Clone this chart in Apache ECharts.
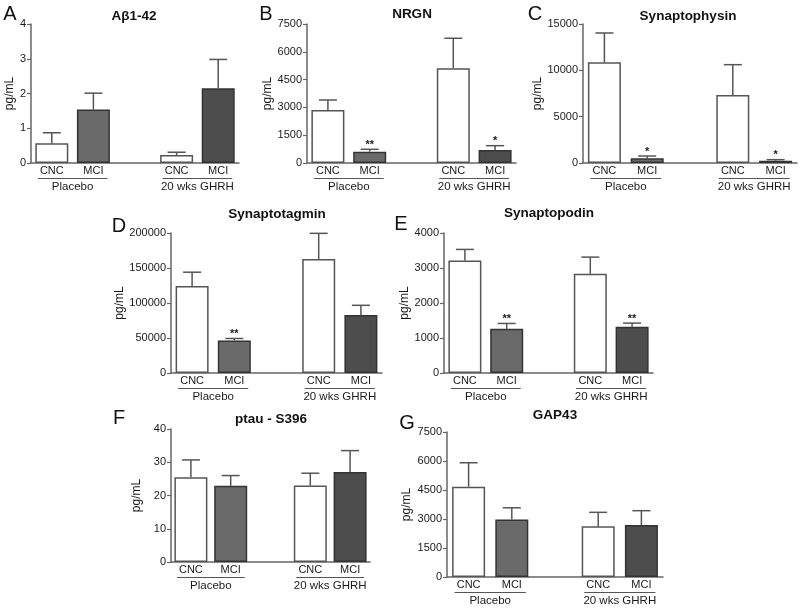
<!DOCTYPE html>
<html><head><meta charset="utf-8">
<script src="https://cdn.jsdelivr.net/npm/echarts@6/dist/echarts.min.js"></script>
<style>html,body{margin:0;padding:0;background:#fff}#c{width:800px;height:611px}</style>
</head><body><div id="c"></div>
<script>
// ---------- data ----------
const categories = ['CNC', 'MCI', '', 'CNC', 'MCI'];
const groupLabels = ['Placebo', '20 wks GHRH'];
const groupSpans = [[0, 1], [3, 4]];
const panelLetters = ['A', 'B', 'C', 'D', 'E', 'F', 'G'];
const panelTitles = ['Aβ1-42', 'NRGN', 'Synaptophysin', 'Synaptotagmin', 'Synaptopodin', 'ptau - S396', 'GAP43'];
const yUnit = 'pg/mL';
const yMax = [4, 7500, 15000, 200000, 4000, 40, 7500];
const yStep = [1, 1500, 5000, 50000, 1000, 10, 1500];

const ab42Mean = [0.57, 1.54, null, 0.23, 2.15];
const ab42Sem = [0.30, 0.47, null, 0.08, 0.83];
const ab42Sig = ['', '', '', '', ''];
const nrgnMean = [2860, 610, null, 5110, 700];
const nrgnSem = [540, 130, null, 1620, 235];
const nrgnSig = ['', '**', '', '', '*'];
const synaptophysinMean = [10860, 500, null, 7340, 250];
const synaptophysinSem = [3170, 255, null, 3270, 110];
const synaptophysinSig = ['', '*', '', '', '*'];
const synaptotagminMean = [124400, 46400, null, 162700, 82800];
const synaptotagminSem = [19600, 2900, null, 36800, 13900];
const synaptotagminSig = ['', '**', '', '', ''];
const synaptopodinMean = [3215, 1263, null, 2833, 1321];
const synaptopodinSem = [316, 153, null, 478, 105];
const synaptopodinSig = ['', '**', '', '', '**'];
const ptauMean = [25.5, 22.9, null, 23.0, 27.1];
const ptauSem = [5.2, 3.1, null, 3.7, 6.4];
const ptauSig = ['', '', '', '', ''];
const gap43Mean = [4670, 2980, null, 2620, 2690];
const gap43Sem = [1240, 600, null, 725, 740];
const gap43Sig = ['', '', '', '', ''];

// ---------- layout / style ----------
const means = [ab42Mean, nrgnMean, synaptophysinMean, synaptotagminMean, synaptopodinMean, ptauMean, gap43Mean];
const sems = [ab42Sem, nrgnSem, synaptophysinSem, synaptotagminSem, synaptopodinSem, ptauSem, gap43Sem];
const sigs = [ab42Sig, nrgnSig, synaptophysinSig, synaptotagminSig, synaptopodinSig, ptauSig, gap43Sig];

const grids = [
  {left: 31, top: 24, width: 208, height: 139},
  {left: 307, top: 24, width: 209, height: 139},
  {left: 583, top: 24, width: 214, height: 139},
  {left: 171, top: 233, width: 211, height: 140},
  {left: 444, top: 233, width: 209, height: 140},
  {left: 171, top: 429, width: 199, height: 133},
  {left: 447, top: 432, width: 216, height: 145}
];
const nameGaps = [11, 30, 35, 40, 30, 28, 34];
const titlePos = [[134, 16], [412, 14], [688, 16], [277, 214], [549, 213], [271, 419], [555, 415]];
const letterPos = [[10, 14], [266, 14], [535, 14], [119, 226], [401, 224], [119, 418], [407, 423]];
const barFill = ['#ffffff', '#6a6a6a', '#ffffff', '#ffffff', '#4d4d4d'];
const barBorder = ['#555555', '#333333', '#555555', '#555555', '#333333'];
const FONT = '"Liberation Sans", Arial, Helvetica, sans-serif';
const axisColor = '#666666';

const option = {
  animation: false,
  textStyle: {fontFamily: FONT},
  grid: [], xAxis: [], yAxis: [], series: [], graphic: []
};

means.forEach((m, i) => {
  option.grid.push(Object.assign({containLabel: false}, grids[i]));
  option.xAxis.push({
    type: 'category', gridIndex: i, data: categories,
    axisLine: {lineStyle: {color: axisColor, width: 1.5}},
    axisTick: {show: false},
    axisLabel: {interval: 0, margin: 2, fontSize: 11, color: '#1a1a1a', fontFamily: FONT},
    splitLine: {show: false}
  });
  option.yAxis.push({
    type: 'value', gridIndex: i, min: 0, max: yMax[i], interval: yStep[i],
    name: yUnit, nameLocation: 'middle', nameGap: nameGaps[i],
    nameTextStyle: {fontSize: 12, color: '#1a1a1a', fontFamily: FONT},
    axisLine: {show: true, lineStyle: {color: axisColor, width: 1.5}},
    axisTick: {show: true, length: 4, lineStyle: {color: axisColor, width: 1.2}},
    axisLabel: {fontSize: 11, color: '#1a1a1a', margin: 5, fontFamily: FONT,
      formatter: function (v) { return String(v); }},
    splitLine: {show: false}
  });
  option.series.push({
    type: 'bar', xAxisIndex: i, yAxisIndex: i, barWidth: 33, silent: true,
    data: m.map((v, j) => v == null ? '-' : {
      value: v,
      itemStyle: {color: barFill[j], borderColor: barBorder[j], borderWidth: 1.5}
    })
  });
  const sigList = sigs[i];
  const errData = [];
  m.forEach((v, j) => { if (v != null) errData.push([j, v, sems[i][j], j]); });
  option.series.push({
    type: 'custom', xAxisIndex: i, yAxisIndex: i, silent: true, z: 3,
    encode: {x: 0, y: 1},
    data: errData,
    renderItem: function (params, api) {
      const x = api.value(0), v = api.value(1), e = api.value(2);
      const base = api.coord([x, v]);
      const top = api.coord([x, v + e]);
      const children = [
        {type: 'line', shape: {x1: base[0], y1: base[1], x2: top[0], y2: top[1]},
         style: {stroke: '#555', lineWidth: 1.5}},
        {type: 'line', shape: {x1: top[0] - 9, y1: top[1], x2: top[0] + 9, y2: top[1]},
         style: {stroke: '#555', lineWidth: 1.5}}
      ];
      const s = sigList[api.value(3)];
      if (s) {
        children.push({type: 'text', style: {text: s, x: top[0], y: top[1] + 1,
          align: 'center', verticalAlign: 'bottom', fontSize: 11, fontWeight: 'bold',
          fontFamily: FONT, fill: '#1a1a1a'}});
      }
      return {type: 'group', children: children};
    }
  });
  option.series.push({
    type: 'custom', xAxisIndex: i, yAxisIndex: i, silent: true, clip: false,
    encode: {x: [0, 2], y: 1},
    data: groupSpans.map((s, k) => [s[0], 0, s[1], k]),
    renderItem: function (params, api) {
      const a = api.coord([api.value(0), 0]);
      const b = api.coord([api.value(2), 0]);
      const y = a[1];
      return {type: 'group', children: [
        {type: 'line', shape: {x1: a[0] - 14, y1: y + 15.5, x2: b[0] + 14, y2: y + 15.5},
         style: {stroke: '#555', lineWidth: 1}},
        {type: 'text', style: {text: groupLabels[api.value(3)], x: (a[0] + b[0]) / 2, y: y + 24,
          align: 'center', verticalAlign: 'middle', fontSize: 11.5, fontFamily: FONT, fill: '#1a1a1a'}}
      ]};
    }
  });
  option.graphic.push({
    type: 'text', x: titlePos[i][0], y: titlePos[i][1], silent: true,
    style: {text: panelTitles[i], align: 'center', verticalAlign: 'middle',
      fontSize: 13.5, fontWeight: 'bold', fontFamily: FONT, fill: '#111'}
  });
  option.graphic.push({
    type: 'text', x: letterPos[i][0], y: letterPos[i][1], silent: true,
    style: {text: panelLetters[i], align: 'center', verticalAlign: 'middle',
      fontSize: 20, fontFamily: FONT, fill: '#111'}
  });
});

const chart = echarts.init(document.getElementById('c'), null, {renderer: 'canvas'});
chart.setOption(option);
</script>
</body></html>
